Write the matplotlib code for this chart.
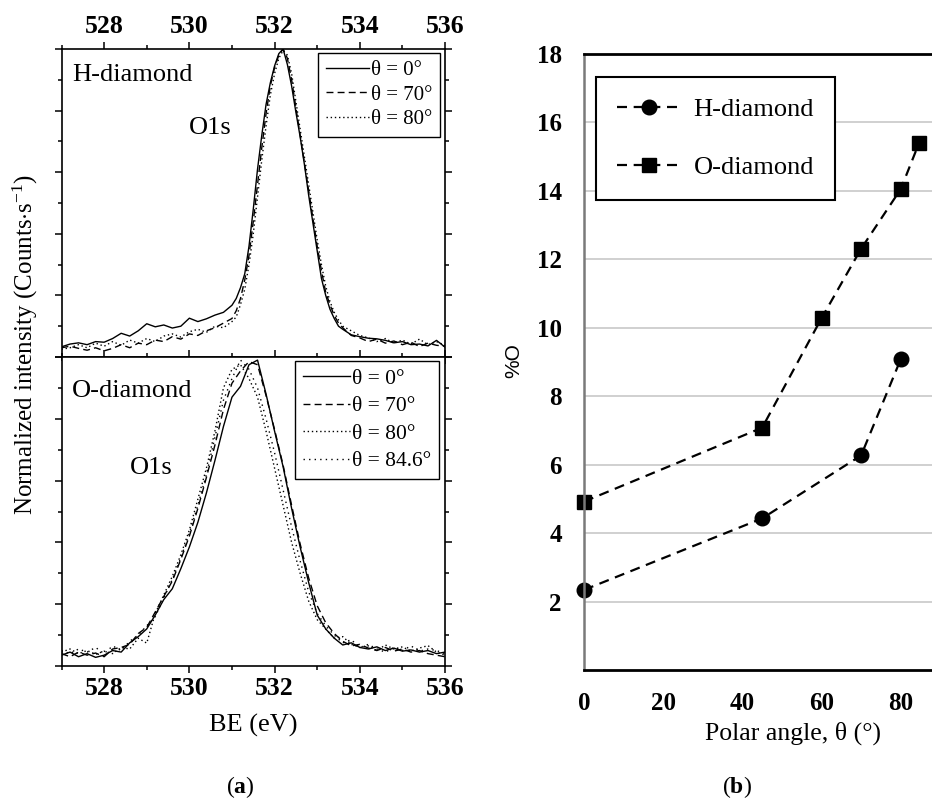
import numpy as np
import matplotlib
matplotlib.use("Agg")
import matplotlib.pyplot as plt
from matplotlib.ticker import MultipleLocator

plt.rcParams['font.family'] = ['Liberation Serif', 'DejaVu Serif']
plt.rcParams['mathtext.fontset'] = 'custom'
plt.rcParams['mathtext.rm'] = 'Liberation Serif'
plt.rcParams['mathtext.bf'] = 'Liberation Serif:bold'
plt.rcParams['mathtext.it'] = 'Liberation Serif:italic'

# ---------------- panel (a): O1s spectra ----------------
# binding energy grids (eV)
be_h = np.concatenate([np.linspace(527.0, 531.0, 21),
                       np.linspace(531.1, 533.5, 25),
                       np.linspace(533.6, 536.0, 13)])
be_o = np.linspace(527.0, 536.0, 46)

# H-diamond, normalized intensity
h_0 = [0.033, 0.042, 0.046, 0.040, 0.050, 0.048, 0.060, 0.077, 0.068, 0.085,
       0.108, 0.098, 0.104, 0.094, 0.100, 0.126, 0.115, 0.124, 0.136, 0.145, 0.168,
       0.19, 0.225, 0.27, 0.36, 0.48, 0.61, 0.72, 0.82, 0.89, 0.945, 0.985, 1.0,
       0.95, 0.88, 0.795, 0.715, 0.625, 0.525, 0.435, 0.345, 0.255, 0.20, 0.155, 0.125, 0.10,
       0.090, 0.072, 0.066, 0.061, 0.059, 0.054, 0.046, 0.050, 0.040, 0.042, 0.036, 0.054, 0.032]
h_70 = [0.030, 0.035, 0.028, 0.022, 0.030, 0.020, 0.028, 0.040, 0.030, 0.045,
        0.040, 0.055, 0.050, 0.066, 0.058, 0.075, 0.070, 0.085, 0.095, 0.110, 0.125,
        0.15, 0.19, 0.25, 0.33, 0.44, 0.56, 0.68, 0.79, 0.88, 0.94, 0.98, 1.0,
        0.97, 0.90, 0.81, 0.72, 0.63, 0.54, 0.45, 0.36, 0.28, 0.21, 0.17, 0.135, 0.11,
        0.095, 0.070, 0.062, 0.050, 0.058, 0.045, 0.052, 0.040, 0.048, 0.034, 0.045, 0.038, 0.035]
h_80 = [0.025, 0.030, 0.040, 0.030, 0.045, 0.035, 0.050, 0.038, 0.055, 0.045,
        0.060, 0.050, 0.068, 0.075, 0.065, 0.082, 0.090, 0.080, 0.100, 0.095, 0.115,
        0.13, 0.17, 0.22, 0.30, 0.40, 0.52, 0.64, 0.75, 0.85, 0.92, 0.97, 0.995,
        0.98, 0.92, 0.83, 0.74, 0.65, 0.56, 0.47, 0.38, 0.30, 0.23, 0.18, 0.145, 0.12,
        0.100, 0.085, 0.070, 0.062, 0.050, 0.060, 0.045, 0.055, 0.042, 0.058, 0.040, 0.050, 0.038]

# O-diamond, normalized intensity
o_0 = [0.035, 0.045, 0.030, 0.040, 0.028, 0.035, 0.050, 0.045, 0.075, 0.095,
       0.120, 0.165, 0.215, 0.250, 0.315, 0.385, 0.465, 0.560, 0.665, 0.775,
       0.870, 0.905, 0.975, 0.990, 0.880, 0.760, 0.645, 0.510, 0.385, 0.270,
       0.165, 0.120, 0.090, 0.068, 0.075, 0.060, 0.055, 0.062, 0.050, 0.058,
       0.048, 0.052, 0.045, 0.050, 0.040, 0.045]
o_70 = [0.040, 0.030, 0.045, 0.035, 0.042, 0.030, 0.055, 0.060, 0.070, 0.105,
        0.125, 0.175, 0.225, 0.275, 0.345, 0.420, 0.510, 0.610, 0.715, 0.830,
        0.915, 0.955, 0.985, 0.975, 0.875, 0.765, 0.650, 0.520, 0.395, 0.285,
        0.195, 0.140, 0.105, 0.080, 0.065, 0.070, 0.058, 0.050, 0.060, 0.048,
        0.055, 0.045, 0.050, 0.040, 0.035, 0.030]
o_80 = [0.045, 0.055, 0.040, 0.050, 0.038, 0.048, 0.040, 0.060, 0.055, 0.090,
        0.074, 0.170, 0.230, 0.290, 0.360, 0.440, 0.540, 0.640, 0.760, 0.900,
        0.960, 0.975, 0.930, 0.870, 0.760, 0.640, 0.520, 0.400, 0.300, 0.210,
        0.150, 0.120, 0.090, 0.095, 0.070, 0.060, 0.065, 0.050, 0.068, 0.055,
        0.062, 0.048, 0.058, 0.066, 0.045, 0.035]
o_846 = [0.050, 0.040, 0.055, 0.045, 0.060, 0.040, 0.065, 0.050, 0.080, 0.100,
         0.130, 0.160, 0.220, 0.280, 0.350, 0.430, 0.520, 0.620, 0.740, 0.860,
         0.930, 0.990, 0.960, 0.900, 0.800, 0.690, 0.570, 0.450, 0.340, 0.240,
         0.170, 0.130, 0.100, 0.075, 0.085, 0.060, 0.070, 0.055, 0.045, 0.060,
         0.050, 0.065, 0.048, 0.055, 0.050, 0.040]

# ---------------- panel (b): %O vs polar angle ----------------
angle_h = [0, 45, 70, 80]
perc_h = [2.34, 4.43, 6.27, 9.08]
angle_o = [0, 45, 60, 70, 80, 84.6]
perc_o = [4.92, 7.08, 10.28, 12.31, 14.05, 15.39]

fig = plt.figure(figsize=(9.32, 8.0), dpi=100)

ax1 = fig.add_axes([0.066, 0.55375, 0.4115, 0.385])
ax2 = fig.add_axes([0.066, 0.1675, 0.4115, 0.38625])

ax1.plot(be_h, h_0, '-', color='black', lw=1.0, label='θ = 0°')
ax1.plot(be_h, h_70, color='black', lw=1.0, ls=(0, (5, 3)), label='θ = 70°')
ax1.plot(be_h, h_80, color='black', lw=1.0, ls=(0, (1, 2)), label='θ = 80°')

ax2.plot(be_o, o_0, '-', color='black', lw=1.0, label='θ = 0°')
ax2.plot(be_o, o_70, color='black', lw=1.0, ls=(0, (5, 3)), label='θ = 70°')
ax2.plot(be_o, o_80, color='black', lw=1.0, ls=(0, (1, 2)), label='θ = 80°')
ax2.plot(be_o, o_846, color='black', lw=1.0, ls=(0, (1, 3)), label='θ = 84.6°')

for ax in (ax1, ax2):
    ax.set_xlim(527, 536)
    ax.set_ylim(0, 1.0)
    ax.xaxis.set_major_locator(MultipleLocator(2))
    ax.xaxis.set_minor_locator(MultipleLocator(1))
    ax.yaxis.set_major_locator(MultipleLocator(0.2))
    ax.yaxis.set_minor_locator(MultipleLocator(0.1))
    ax.tick_params(which='both', direction='out', top=True, bottom=True,
                   left=True, right=True, labelleft=False, width=1.1)
    ax.tick_params(which='major', length=5)
    ax.tick_params(which='minor', length=3)
    for s in ax.spines.values():
        s.set_linewidth(1.2)

ax1.tick_params(labeltop=True, labelbottom=False, labelsize=18.5, pad=3)
ax2.tick_params(labeltop=False, labelbottom=True, labelsize=18.5, pad=3)
for lab in ax1.get_xticklabels() + ax2.get_xticklabels():
    lab.set_fontweight('bold')

ax1.text(0.027, 0.916, 'H-diamond', transform=ax1.transAxes, fontsize=19,
         ha='left', va='center')
ax1.text(0.387, 0.744, 'O1s', transform=ax1.transAxes, fontsize=19,
         ha='center', va='center')
ax2.text(0.027, 0.89, 'O-diamond', transform=ax2.transAxes, fontsize=19,
         ha='left', va='center')
ax2.text(0.233, 0.64, 'O1s', transform=ax2.transAxes, fontsize=19,
         ha='center', va='center')

leg1 = ax1.legend(loc='upper right', bbox_to_anchor=(0.987, 0.987), borderaxespad=0,
                  fontsize=15, handlelength=2.1, handletextpad=0.1, labelspacing=0.25,
                  borderpad=0.35, fancybox=False, framealpha=1, edgecolor='black')
leg1.get_frame().set_linewidth(1.0)
leg2 = ax2.legend(loc='upper right', bbox_to_anchor=(0.984, 0.987), borderaxespad=0,
                  fontsize=15.5, handlelength=2.2, handletextpad=0.1, labelspacing=0.35,
                  borderpad=0.35, fancybox=False, framealpha=1, edgecolor='black')
leg2.get_frame().set_linewidth(1.0)

ax2.set_xlabel('BE (eV)', fontsize=19, labelpad=10)
fig.text(0.027, 0.57, r'Normalized intensity (Counts$\cdot$s$^{-1}$)', fontsize=18,
         rotation=90, ha='center', va='center')

# ---------------- panel (b) ----------------
ax3 = fig.add_axes([0.6266, 0.1625, 0.3734, 0.77])
ax3.set_xlim(0, 87.9)
ax3.set_ylim(0, 18)
ax3.set_yticks([2, 4, 6, 8, 10, 12, 14, 16, 18])
ax3.set_xticks([0, 20, 40, 60, 80])
ax3.grid(axis='y', color='#c8c8c8', lw=1.2)
ax3.set_axisbelow(True)
ax3.tick_params(length=0, labelsize=18, pad=16)
for lab in ax3.get_xticklabels() + ax3.get_yticklabels():
    lab.set_fontweight('bold')
ax3.spines['right'].set_visible(False)
ax3.spines['top'].set_linewidth(2.0)
ax3.spines['bottom'].set_linewidth(2.0)
ax3.spines['left'].set_color('#7a7a7a')
ax3.spines['left'].set_linewidth(1.8)

ax3.plot(angle_h, perc_h, color='black', lw=1.6, ls=(0, (4.5, 3)), marker='o',
         ms=10.5, clip_on=False, label='H-diamond')
ax3.plot(angle_o, perc_o, color='black', lw=1.6, ls=(0, (4.5, 3)), marker='s',
         ms=9.5, clip_on=False, label='O-diamond')

leg3 = ax3.legend(loc='upper left', bbox_to_anchor=(0.0345, 0.963), borderaxespad=0,
                  fontsize=19, handlelength=2.4, handletextpad=0.5, labelspacing=1.3,
                  borderpad=0.8, fancybox=False, framealpha=1, edgecolor='black')
leg3.get_frame().set_linewidth(1.5)

fig.text(793 / 932, 1 - 733 / 800, 'Polar angle, θ (°)', fontsize=18.5,
         ha='center', va='center')
fig.text(514 / 932, 1 - 361 / 800, '%O', fontsize=15, rotation=90,
         family=['Liberation Sans', 'DejaVu Sans'], ha='center', va='center')

fig.text(240 / 932, 1 - 787 / 800, r'($\mathbf{a}$)', fontsize=17, ha='center', va='center')
fig.text(737 / 932, 1 - 787 / 800, r'($\mathbf{b}$)', fontsize=17, ha='center', va='center')

fig.savefig('out.png', dpi=100)
